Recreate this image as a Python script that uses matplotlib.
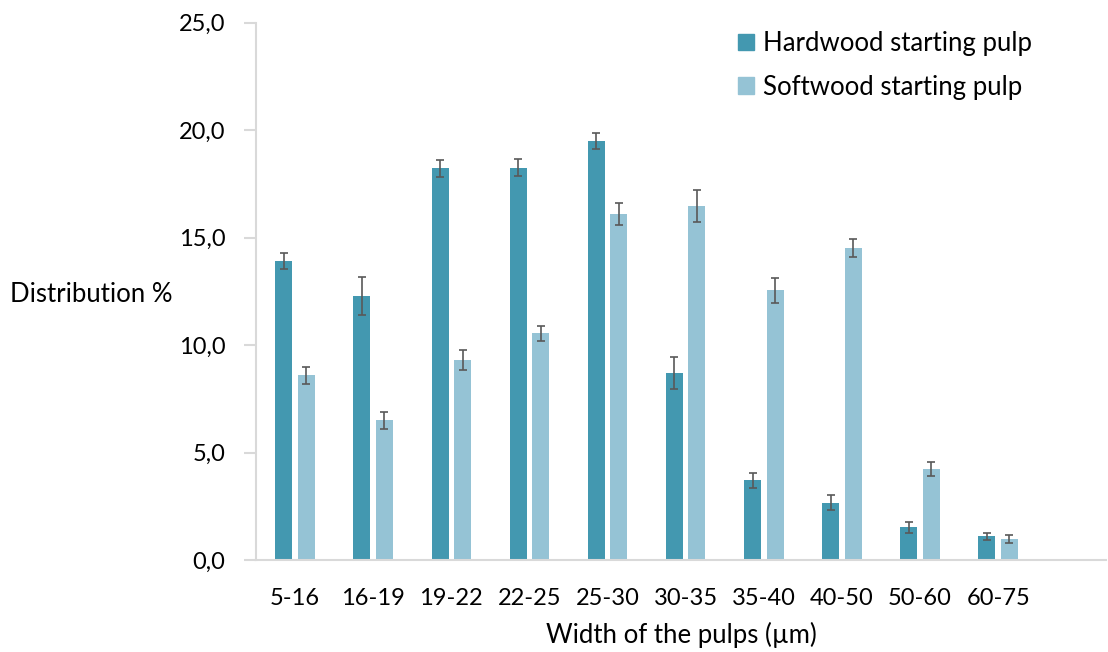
import matplotlib
matplotlib.use("Agg")
import matplotlib.pyplot as plt
import numpy as np
from matplotlib.patches import Patch

categories = ["5-16", "16-19", "19-22", "22-25", "25-30", "30-35", "35-40", "40-50", "50-60", "60-75"]
hardwood = [13.92, 12.29, 18.23, 18.26, 19.50, 8.71, 3.70, 2.67, 1.52, 1.10]
hardwood_err = [0.38, 0.90, 0.40, 0.41, 0.38, 0.74, 0.37, 0.36, 0.25, 0.17]
softwood = [8.60, 6.50, 9.29, 10.54, 16.12, 16.48, 12.54, 14.51, 4.25, 0.98]
softwood_err = [0.40, 0.39, 0.47, 0.33, 0.51, 0.73, 0.60, 0.41, 0.33, 0.20]
yticks = [0, 5, 10, 15, 20, 25]
ytick_labels = ["0,0", "5,0", "10,0", "15,0", "20,0", "25,0"]
series_names = ["Hardwood starting pulp", "Softwood starting pulp"]

c_hard = "#4398B0"
c_soft = "#95C3D5"
err_c = "#595959"
axis_c = "#D9D9D9"

plt.rcParams['font.family'] = ['Lato', 'DejaVu Sans']
FS_T = 17
FS = 18.5

W, H = 1108, 652
fig = plt.figure(figsize=(W / 100, H / 100), dpi=100)
ax = fig.add_axes([256 / W, (652 - 560) / H, (1106 - 256) / W, (560 - 22.7) / H])

x = np.arange(len(categories))
bw = 0.218
off = 0.144
ekw = dict(ecolor=err_c, elinewidth=1.2, capsize=3.2, capthick=1.2)
ax.bar(x - off, hardwood, bw, color=c_hard, yerr=hardwood_err, error_kw=ekw, zorder=2)
ax.bar(x + off, softwood, bw, color=c_soft, yerr=softwood_err, error_kw=ekw, zorder=2)

ax.set_xlim(-0.5, 10.38)
ax.set_ylim(0, 25)
ax.set_yticks(yticks)
ax.set_yticklabels(ytick_labels, fontsize=FS_T)
ax.set_xticks(x)
ax.set_xticklabels(categories, fontsize=FS_T)

for s in ["top", "right"]:
    ax.spines[s].set_visible(False)
for s in ["left", "bottom"]:
    ax.spines[s].set_color(axis_c)
    ax.spines[s].set_linewidth(1.5)
ax.tick_params(axis='y', length=9, width=1.5, color=axis_c, pad=13)
ax.tick_params(axis='x', length=0, pad=20)

fig.text(10 / W, 1 - 294 / H, "Distribution %", fontsize=FS, ha='left', va='center')
fig.text(681 / W, 1 - 635 / H, "Width of the pulps (\u00b5m)", fontsize=FS, ha='center', va='center')

handles = [Patch(color=c_hard), Patch(color=c_soft)]
leg = fig.legend(handles, series_names, loc='upper left', bbox_to_anchor=(738 / W, 1 - 31 / H),
                 frameon=False, fontsize=FS, handlelength=0.62, handleheight=0.62,
                 handletextpad=0.36, labelspacing=0.72, borderpad=0, borderaxespad=0)

fig.savefig("out.png", dpi=100)
